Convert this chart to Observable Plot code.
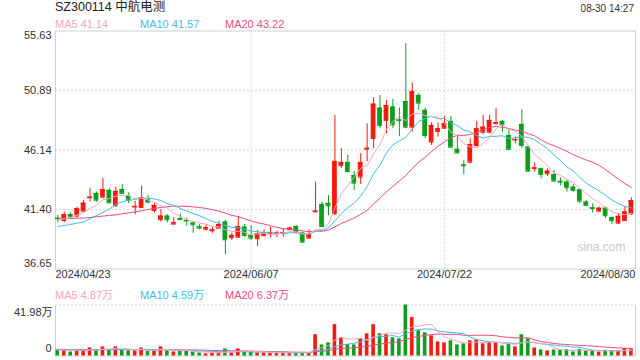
<!DOCTYPE html>
<html><head><meta charset="utf-8">
<script src="https://cdn.jsdelivr.net/npm/d3@7"></script>
<script src="https://cdn.jsdelivr.net/npm/@observablehq/plot@0.6"></script>
<style>
body{margin:0;background:#fff;}
#wrap{position:relative;width:640px;height:360px;overflow:hidden;font-family:"Liberation Sans",Arial,"Noto Sans CJK SC",sans-serif;}
.t{position:absolute;white-space:nowrap;line-height:1;}
#wrap svg{position:absolute;left:0;}
</style></head>
<body><div id="wrap"></div>
<script>
const stockTitle = "SZ300114 中航电测";
const timeStamp = "08-30 14:27";
const tickDates = ["2024/04/23","2024/06/07","2024/07/22","2024/08/30"];
const tickIndex = [0, 30, 60, 89];
const yTicks = [55.63, 50.89, 46.14, 41.40, 36.65];
const volMax = 41.98;
const volTickLabels = ["41.98万", "0"];
const maNames = ["MA5", "MA10", "MA20"];
const maLegendPrice = ["41.14", "41.57", "43.22"];
const maLegendVol = ["4.87万", "4.59万", "6.37万"];

const open = [40.70,40.52,40.98,40.87,41.26,42.34,42.68,42.38,42.92,41.70,
 42.99,42.44,41.60,41.56,42.17,41.32,40.58,40.87,40.23,40.66,
 40.53,40.31,40.02,39.82,39.70,39.91,40.39,39.14,39.19,39.99,
 39.33,39.06,39.33,39.50,39.48,39.52,39.78,40.04,39.51,39.11,
 41.20,41.80,41.88,41.06,44.89,45.15,44.11,43.98,46.20,47.06,
 49.48,48.50,49.56,48.54,50.01,47.96,50.49,49.30,46.77,47.62,
 47.88,48.42,46.19,44.95,45.17,46.50,47.56,47.56,48.24,48.42,
 47.30,46.94,48.18,46.37,44.66,44.64,44.25,44.19,43.64,43.58,
 43.18,42.97,41.98,41.53,41.26,41.50,40.74,40.31,40.52,41.06];
const high = [40.92,41.19,41.14,41.58,42.12,43.05,42.78,43.85,43.05,43.18,
 43.37,42.73,42.04,43.27,42.52,41.90,41.40,40.98,40.74,41.06,
 40.71,40.34,40.20,40.18,39.98,40.47,40.52,39.51,40.84,40.20,
 40.12,39.73,39.78,39.99,39.67,39.88,39.99,40.10,39.59,39.78,
 43.58,41.98,42.50,48.90,46.24,45.71,44.43,45.84,48.23,50.30,
 50.49,50.09,50.17,49.50,54.61,51.47,50.63,49.48,48.31,48.31,
 48.80,48.82,47.30,45.31,47.04,48.42,48.90,48.90,49.43,48.50,
 47.84,47.17,49.35,46.45,45.12,44.70,44.64,44.51,43.90,43.71,
 43.39,43.00,42.12,41.85,41.58,41.58,40.79,41.06,41.64,42.33];
const low = [40.36,40.34,40.71,40.71,41.19,41.98,41.98,42.25,41.85,41.58,
 42.62,41.85,40.98,41.45,41.85,41.11,40.39,40.34,40.18,40.50,
 40.07,39.49,39.78,39.67,39.50,39.83,37.80,38.93,39.14,39.17,
 38.93,38.45,39.19,39.14,39.14,39.20,39.73,39.48,38.70,39.08,
 41.20,39.99,40.90,40.92,44.65,44.29,42.92,43.39,45.20,46.24,
 47.84,47.44,47.84,47.20,47.84,47.56,49.30,47.04,46.50,47.17,
 47.78,46.24,45.85,44.17,45.04,46.37,47.36,47.44,48.15,47.56,
 46.10,46.64,46.24,44.35,44.37,43.85,44.03,43.58,43.29,42.78,
 42.78,41.85,41.64,41.11,41.19,40.68,40.20,40.20,40.47,40.92];
const close = [40.66,40.98,40.79,41.45,41.90,42.38,42.14,42.99,41.93,42.84,
 42.68,42.14,41.64,42.33,41.98,41.72,40.87,40.58,40.36,40.60,
 40.48,40.18,39.91,39.95,39.78,40.20,38.98,39.33,40.04,39.33,
 39.11,39.46,39.54,39.56,39.52,39.56,39.91,39.54,38.79,39.41,
 41.27,40.04,41.68,45.23,45.15,44.43,43.50,45.15,46.28,49.80,
 48.10,49.69,48.15,48.48,47.96,50.81,49.88,47.30,48.10,47.84,
 48.23,46.37,45.90,44.88,46.56,47.84,47.96,48.50,48.32,48.15,
 46.19,46.98,46.50,44.45,44.72,44.19,44.45,43.66,43.58,43.13,
 42.92,42.06,41.72,41.47,41.50,40.90,40.50,40.85,41.20,42.10];
const volume = [5.0,5.0,3.3,4.7,4.7,6.6,4.7,7.5,4.7,7.5,
 5.0,4.2,4.2,6.6,3.9,4.2,7.5,4.2,3.3,4.2,
 4.2,3.3,2.5,1.7,2.5,2.5,5.8,2.5,5.8,3.3,
 3.3,2.5,2.5,2.5,2.5,2.5,2.5,2.5,3.0,2.5,
 17.5,9.1,10.8,25.8,15.0,9.4,9.1,14.1,18.3,25.8,
 18.3,17.5,15.0,14.1,41.98,31.6,20.8,19.1,16.6,11.6,
 10.8,12.5,9.1,10.0,12.5,13.3,10.0,11.1,11.1,8.3,
 10.0,7.5,17.5,14.1,6.6,5.0,4.2,5.0,5.0,5.3,
 3.3,5.5,4.2,4.4,3.3,4.7,3.9,4.2,6.1,6.1];
const ma5Head = [40.55,40.65,40.75,40.95];
const ma10Head = [40.04,40.12,40.20,40.31,40.39,40.66,40.92,41.16,41.42];
const ma20Head = [40.66,40.67,40.68,40.70,40.71,40.76,40.82,40.87,40.92,40.97,41.05,41.13,41.21,41.29,41.40,41.48,41.56,41.61,41.67];
const vma5Head = [4.8,4.9,4.6,4.7];
const vma10Head = [5.2,5.2,5.1,5.1,5.0,5.1,5.1,5.2,5.2];
const vma20Head = [5.5,5.5,5.4,5.4,5.3,5.3,5.3,5.3,5.2,5.2,5.2,5.2,5.1,5.1,5.1,5.1,5.1,5.1,5.1];

const RED = "#f21a0d", GREEN = "#0c9f1c";
const MA_COLORS = ["#f7a3c2", "#3dc0e2", "#ee4a7e"];
const FONT = '"Liberation Sans", Arial, "Noto Sans CJK SC", sans-serif';

function movingAvg(vals, n, head) {
  return vals.map((v, i) => i < head.length ? head[i] : d3.mean(vals.slice(i - n + 1, i + 1)));
}
const ma = [movingAvg(close,5,ma5Head), movingAvg(close,10,ma10Head), movingAvg(close,20,ma20Head)];
const vma = [movingAvg(volume,5,vma5Head), movingAvg(volume,10,vma10Head), movingAvg(volume,20,vma20Head)];

const N = close.length;
const rows = d3.range(N).map(i => ({
  i, o: open[i], h: high[i], l: low[i], c: close[i], v: volume[i],
  col: close[i] >= open[i] ? RED : GREEN,
  ma5: ma[0][i], ma10: ma[1][i], ma20: ma[2][i],
  vma5: vma[0][i], vma10: vma[1][i], vma20: vma[2][i]
}));
const xDomain = [-0.36, N - 0.36];
const BW = 0.37, VW = 0.28;
const gridStyle = {stroke: "#d8d8d8", strokeDasharray: "2,2"};

const main = Plot.plot({
  width: 640, height: 290,
  marginTop: 30.5, marginBottom: 21.5, marginLeft: 55, marginRight: 5,
  x: {domain: xDomain, axis: null},
  y: {domain: [yTicks[yTicks.length-1], yTicks[0]], axis: null},
  color: {type: "identity"},
  style: {fontFamily: FONT, fontSize: "11px", background: "transparent"},
  marks: [
    Plot.ruleY(yTicks.slice(1, -1), gridStyle),
    Plot.ruleX(tickIndex.slice(1, -1), gridStyle),
    Plot.frame({stroke: "#d0d0d0"}),
    Plot.text(["sina.com"], {frameAnchor: "bottom-right", dx: -10, dy: -18, fill: "#c8c8c8", fontSize: 12}),
    Plot.ruleX(rows, {x: "i", y1: "l", y2: "h", stroke: "col", strokeWidth: 1}),
    Plot.rect(rows, {x1: d => d.i - BW, x2: d => d.i + BW, y1: d => Math.min(d.o, d.c), y2: d => Math.max(d.o, d.c), fill: "col"}),
    Plot.ruleY(rows, {y: "c", x1: d => d.i - BW, x2: d => d.i + BW, stroke: "col"}),
    Plot.ruleY(rows, {y: "o", x1: d => d.i - BW, x2: d => d.i + BW, stroke: "col"}),
    Plot.line(rows, {x: "i", y: "ma20", stroke: MA_COLORS[2], strokeWidth: 1}),
    Plot.line(rows, {x: "i", y: "ma10", stroke: MA_COLORS[1], strokeWidth: 1}),
    Plot.line(rows, {x: "i", y: "ma5", stroke: MA_COLORS[0], strokeWidth: 1}),
    Plot.text(yTicks.slice(1, -1), {y: d => d, text: d => d.toFixed(2), frameAnchor: "left", textAnchor: "end", dx: -4, fill: "#333"}),
    Plot.text([yTicks[0]], {y: d => d, text: d => d.toFixed(2), frameAnchor: "left", textAnchor: "end", dx: -4, dy: 4.5, fill: "#333"}),
    Plot.text([yTicks[yTicks.length-1]], {y: d => d, text: d => d.toFixed(2), frameAnchor: "left", textAnchor: "end", dx: -4, dy: -5.5, fill: "#333"}),
    Plot.text([tickDates[0]], {frameAnchor: "bottom-left", textAnchor: "start", dy: 9, fill: "#333"}),
    Plot.text(tickIndex.slice(1, -1), {x: d => d, text: (d, k) => tickDates[k + 1], frameAnchor: "bottom", dy: 9, fill: "#333"}),
    Plot.text([tickDates[tickDates.length-1]], {frameAnchor: "bottom-right", textAnchor: "end", dy: 9, fill: "#333"})
  ]
});
main.style.top = "0px";

const vol = Plot.plot({
  width: 640, height: 76,
  marginTop: 20.5, marginBottom: 4.5, marginLeft: 55, marginRight: 5,
  x: {domain: xDomain, axis: null},
  y: {domain: [0, volMax], axis: null},
  color: {type: "identity"},
  style: {fontFamily: FONT, fontSize: "11px", background: "transparent"},
  marks: [
    Plot.frame({stroke: "#d0d0d0"}),
    Plot.ruleY([volMax], {stroke: "#fff", strokeWidth: 1.5}),
    Plot.ruleY([volMax], gridStyle),
    Plot.rect(rows, {x1: d => d.i - VW, x2: d => d.i + VW, y1: 0, y2: "v", fill: "col"}),
    Plot.line(rows, {x: "i", y: "vma20", stroke: MA_COLORS[2], strokeWidth: 1}),
    Plot.line(rows, {x: "i", y: "vma10", stroke: MA_COLORS[1], strokeWidth: 1}),
    Plot.line(rows, {x: "i", y: "vma5", stroke: MA_COLORS[0], strokeWidth: 1}),
    Plot.text([volMax], {y: d => d, text: [volTickLabels[0]], frameAnchor: "left", textAnchor: "end", dx: -3, dy: 7, fill: "#333"}),
    Plot.text([0], {y: d => d, text: [volTickLabels[1]], frameAnchor: "left", textAnchor: "end", dx: -4, dy: -7.5, fill: "#333"})
  ]
});
vol.style.top = "284px";

const wrap = document.getElementById("wrap");
wrap.appendChild(main);
wrap.appendChild(vol);

function addText(txt, css) {
  const el = document.createElement("div");
  el.className = "t";
  el.textContent = txt;
  Object.assign(el.style, css);
  wrap.appendChild(el);
}
addText(stockTitle, {left: "55px", top: "1px", fontSize: "12.5px", color: "#222"});
addText(timeStamp, {right: "6px", top: "4px", fontSize: "10px", color: "#333"});
const legendX = [55, 140, 225];
maNames.forEach((n, k) => {
  addText(n + " " + maLegendPrice[k], {left: legendX[k] + "px", top: "18.5px", fontSize: "11px", color: MA_COLORS[k]});
  addText(n + " " + maLegendVol[k], {left: legendX[k] + "px", top: "289.5px", fontSize: "11px", color: MA_COLORS[k]});
});
</script>
</body></html>
